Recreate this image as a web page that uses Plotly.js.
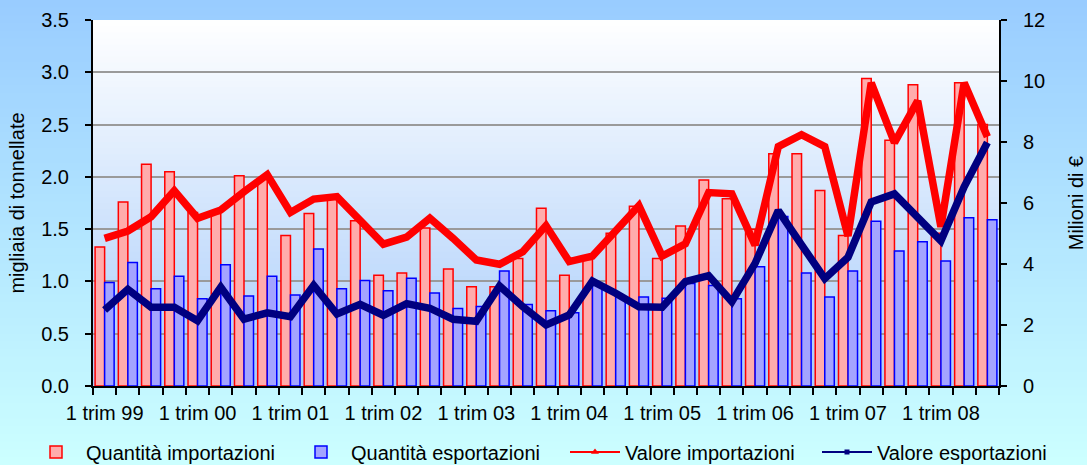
<!DOCTYPE html>
<html>
<head>
<meta charset="utf-8">
<script src="https://cdn.plot.ly/plotly-3.0.1.min.js"></script>
<style>
html,body{margin:0;padding:0;background:#b3e5ff;}
#chart{width:1087px;height:465px;}
</style>
</head>
<body>
<div id="chart"></div>
<script>
// ---- DATA ----
const categories = [
  "1 trim 99","2 trim 99","3 trim 99","4 trim 99",
  "1 trim 00","2 trim 00","3 trim 00","4 trim 00",
  "1 trim 01","2 trim 01","3 trim 01","4 trim 01",
  "1 trim 02","2 trim 02","3 trim 02","4 trim 02",
  "1 trim 03","2 trim 03","3 trim 03","4 trim 03",
  "1 trim 04","2 trim 04","3 trim 04","4 trim 04",
  "1 trim 05","2 trim 05","3 trim 05","4 trim 05",
  "1 trim 06","2 trim 06","3 trim 06","4 trim 06",
  "1 trim 07","2 trim 07","3 trim 07","4 trim 07",
  "1 trim 08","2 trim 08","3 trim 08"
];
const tickLabels = ["1 trim 99","1 trim 00","1 trim 01","1 trim 02","1 trim 03","1 trim 04","1 trim 05","1 trim 06","1 trim 07","1 trim 08"];

// migliaia di tonnellate
const quantitaImportazioni = [1.33,1.76,2.12,2.05,1.66,1.65,2.01,1.98,1.44,1.65,1.80,1.58,1.06,1.08,1.51,1.12,0.95,0.95,1.22,1.70,1.06,1.21,1.46,1.72,1.22,1.53,1.97,1.79,1.50,2.22,2.22,1.87,1.44,2.94,2.35,2.88,1.46,2.90,2.50];
const quantitaEsportazioni = [0.99,1.18,0.93,1.05,0.835,1.16,0.86,1.05,0.87,1.31,0.93,1.01,0.91,1.03,0.89,0.74,0.76,1.10,0.78,0.72,0.70,0.97,0.85,0.85,0.84,0.98,0.96,0.835,1.14,1.62,1.08,0.85,1.10,1.575,1.29,1.38,1.195,1.61,1.59];
// milioni di euro
const valoreImportazioni = [4.84,5.08,5.55,6.40,5.50,5.77,6.37,6.93,5.69,6.13,6.21,5.44,4.65,4.88,5.50,4.84,4.13,3.99,4.40,5.26,4.08,4.26,5.06,5.91,4.26,4.66,6.34,6.30,4.62,7.85,8.24,7.85,4.92,9.94,7.98,9.35,5.22,9.94,8.17];
const valoreEsportazioni = [2.49,3.17,2.58,2.58,2.14,3.24,2.19,2.40,2.27,3.30,2.36,2.68,2.32,2.70,2.55,2.19,2.12,3.28,2.60,2.00,2.33,3.44,3.04,2.60,2.58,3.42,3.62,2.76,4.02,5.75,4.63,3.52,4.22,6.03,6.30,5.53,4.76,6.53,7.98];

// ---- BUILD ----
const FONT = "Liberation Sans, Arial, sans-serif";
const W = 1087, H = 465, ML = 93, MR = 88, MT = 20, MB = 79;
const PW = W - ML - MR, PH = H - MT - MB;

const tickText = categories.map(c => tickLabels.includes(c) ? c : "");

function lerp(a, b, t) { return Math.round(a + (b - a) * t); }
function rgb(c1, c2, t) { return `rgb(${lerp(c1[0],c2[0],t)},${lerp(c1[1],c2[1],t)},${lerp(c1[2],c2[2],t)})`; }

const shapes = [];
const N = 60;
const yTop = 1 + MT / PH, yBot = -MB / PH;
const pageTop = [153,204,255], pageBot = [204,255,255];
for (let i = 0; i < N; i++) {
  const y1 = yTop - (yTop - yBot) * i / N;
  const y0 = yTop - (yTop - yBot) * (i + 1) / N - 0.002;
  shapes.push({type:"rect", xref:"paper", yref:"paper", x0:-ML/PW - 0.01, x1:1 + MR/PW + 0.01, y0:y0, y1:y1,
    fillcolor: rgb(pageTop, pageBot, (i + 0.5) / N), line:{width:0}, layer:"below"});
}
const plotTop = [255,255,255], plotBot = [168,204,250];
for (let i = 0; i < N; i++) {
  const y1 = 1 - i / N;
  const y0 = Math.max(0, 1 - (i + 1) / N - 0.002);
  shapes.push({type:"rect", xref:"paper", yref:"paper", x0:0, x1:1, y0:y0, y1:y1,
    fillcolor: rgb(plotTop, plotBot, (i + 0.5) / N), line:{width:0}, layer:"below"});
}

const RED = "#ff0000", NAVY = "#000080";
const traces = [
  {type:"bar", name:"Quantità importazioni", x:categories, y:quantitaImportazioni, yaxis:"y", legend:"legend",
   marker:{color:"rgb(255,172,172)", line:{color:RED, width:1.5}}},
  {type:"bar", name:"Quantità esportazioni", x:categories, y:quantitaEsportazioni, yaxis:"y", legend:"legend2",
   marker:{color:"rgb(164,164,255)", line:{color:"#0000ff", width:1.5}}},
  {type:"scatter", mode:"lines", name:"Valore importazioni", x:categories, y:valoreImportazioni, yaxis:"y2",
   line:{color:RED, width:7.5}, showlegend:false},
  {type:"scatter", mode:"lines", name:"Valore esportazioni", x:categories, y:valoreEsportazioni, yaxis:"y2",
   line:{color:NAVY, width:7.5}, showlegend:false},
  // legend keys for the two value lines (no data drawn)
  {type:"scatter", mode:"lines+markers", name:"Valore importazioni", x:[null], y:[null], yaxis:"y2", legend:"legend3",
   line:{color:RED, width:2}, marker:{symbol:"triangle-up", size:7, color:RED}, hoverinfo:"skip"},
  {type:"scatter", mode:"lines+markers", name:"Valore esportazioni", x:[null], y:[null], yaxis:"y2", legend:"legend4",
   line:{color:NAVY, width:2}, marker:{symbol:"square", size:5, color:NAVY}, hoverinfo:"skip"}
];

function leg(xpx) {
  return {orientation:"h", xref:"container", yref:"container", x:xpx / W, y:(H - 452) / H, xanchor:"left", yanchor:"middle",
    font:{family:FONT, size:20, color:"#000"}, bgcolor:"rgba(0,0,0,0)", borderwidth:0, itemwidth:50};
}

const layout = {
  width:W, height:H,
  margin:{l:ML, r:MR, t:MT, b:MB, pad:0},
  paper_bgcolor:"rgb(180,228,255)",
  plot_bgcolor:"rgba(0,0,0,0)",
  font:{family:FONT, size:20, color:"#000"},
  barmode:"group", bargap:0.18, bargroupgap:0,
  showlegend:true,
  legend:leg(26), legend2:leg(291), legend3:leg(565), legend4:leg(817),
  xaxis:{type:"category", range:[-0.5, categories.length - 0.5], autorange:false,
    tickmode:"array", tickvals:categories, ticktext:tickText, tickson:"boundaries",
    ticks:"outside", ticklen:7, tickwidth:1.5, tickcolor:"#000", showline:true, linecolor:"#000", linewidth:2,
    showgrid:false, zeroline:false, tickangle:0, ticklabelstandoff:8, tickfont:{family:FONT,size:20,color:"#000"}},
  yaxis:{range:[0,3.5], autorange:false, dtick:0.5, tick0:0, tickformat:".1f", ticks:"outside", ticklen:6, tickwidth:1.5, tickcolor:"#000",
    showline:true, linecolor:"#000", linewidth:2, showgrid:true, gridcolor:"#9a9a9a", gridwidth:1.5, zeroline:false,
    ticklabelstandoff:12, tickfont:{family:FONT,size:20,color:"#000"},
    title:{text:"migliaia di tonnellate", standoff:11, font:{family:FONT,size:20,color:"#000"}}},
  yaxis2:{range:[0,12], autorange:false, dtick:2, tick0:0, overlaying:"y", side:"right", ticks:"outside", ticklen:6, tickwidth:1.5, tickcolor:"#000",
    showline:true, linecolor:"#000", linewidth:2, showgrid:false, zeroline:false,
    ticklabelstandoff:12, tickfont:{family:FONT,size:20,color:"#000"},
    title:{text:"Milioni di €", standoff:29, font:{family:FONT,size:20,color:"#000"}}},
  shapes:shapes
};

Plotly.newPlot("chart", traces, layout, {displayModeBar:false, responsive:false});
</script>
</body>
</html>
